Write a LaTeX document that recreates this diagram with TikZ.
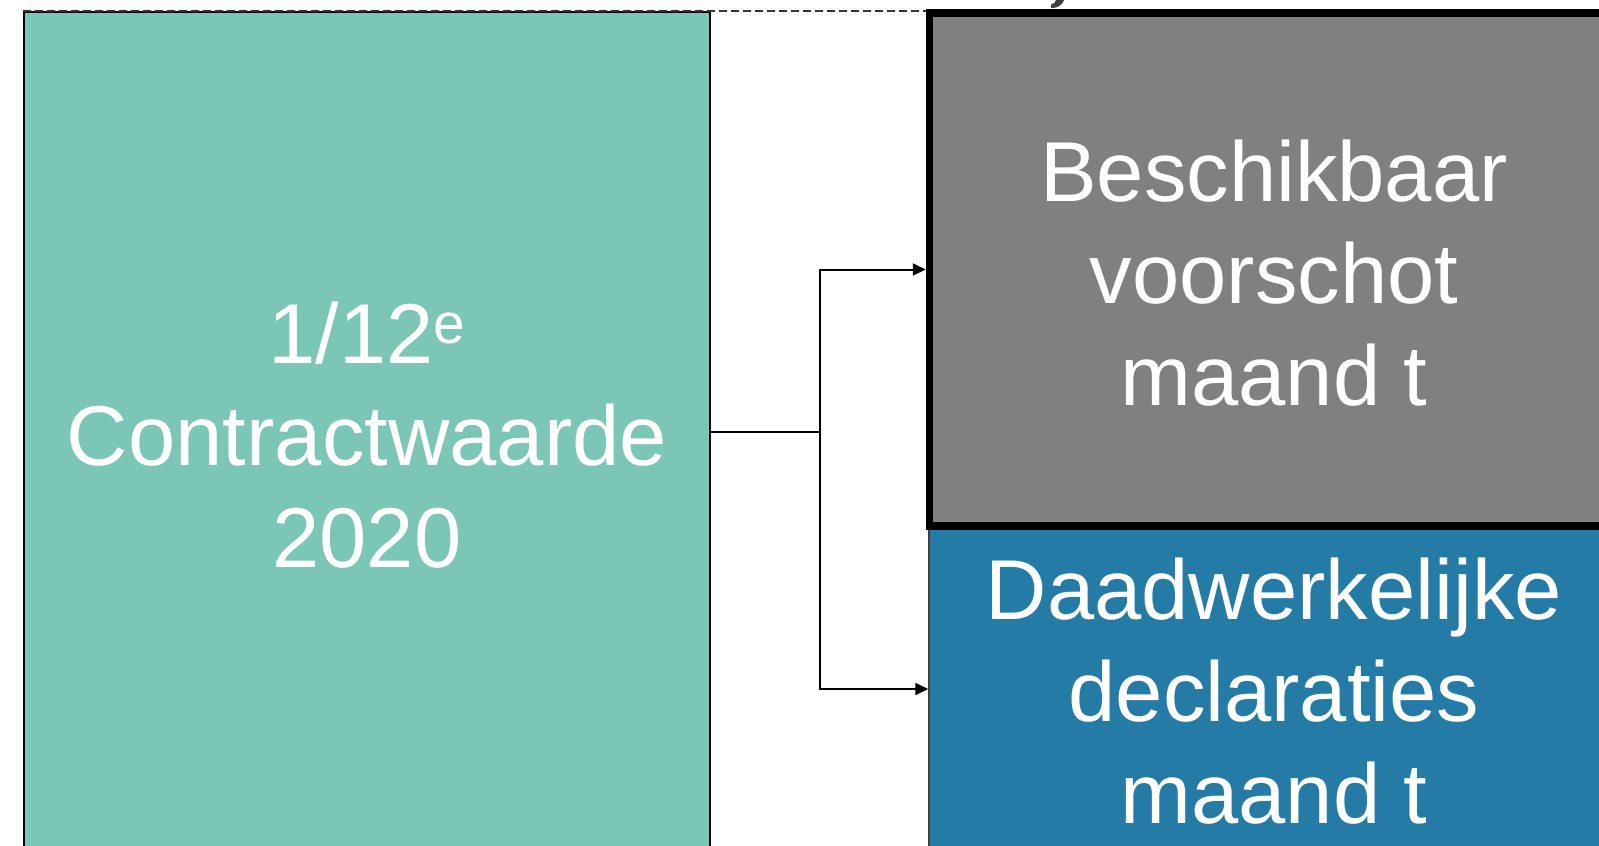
\documentclass[tikz,border=0pt]{standalone}
\usepackage{fontspec}
\setmainfont{Liberation Sans}
\usetikzlibrary{arrows.meta}
\definecolor{boxgreen}{HTML}{7BC6B6}
\definecolor{boxgray}{HTML}{808080}
\definecolor{boxblue}{HTML}{247BA6}
\definecolor{blobgray}{HTML}{404040}
\tikzset{
  panel/.style={rectangle, inner sep=0pt},
  label/.style={text=white, align=center, inner sep=0pt, font=\fontsize{85}{102}\selectfont},
  conn/.style={line width=2pt, black},
  arr/.style={conn, -{Triangle[length=13pt,width=12pt]}},
}
\begin{document}
\begin{tikzpicture}[x=1pt,y=-1pt]
\useasboundingbox (0,0) rectangle (1599,846);
\clip (0,0) rectangle (1599,846);
% boxes
\node[panel, fill=boxgreen, draw=black, line width=2pt, minimum width=686pt, minimum height=858pt] (green) at (367,441) {};
\node[panel, fill=boxblue, draw=blobgray, line width=1.5pt, minimum width=691pt, minimum height=354pt] (blue) at (1274.5,703) {};
\node[panel, fill=boxgray, draw=black, line width=7.5pt, minimum width=690.5pt, minimum height=513pt] (gray) at (1274.75,269.5) {};
% dashed top line
\draw[line width=1.5pt, dash pattern=on 8pt off 4pt, black!80] (green.north west) -- (gray.west |- green.north west);
% texts
\node[label] (tgreen) at (367,444.6) {\strut 1/12\raisebox{20pt}{\fontsize{57}{60}\selectfont e}\\Contractwaarde\\2020\strut};
\node[label] (tgray) at (1274,282.6) {\strut Beschikbaar\\voorschot\\maand t\strut};
\node[label] (tblue) at (1274,700.6) {\strut Daadwerkelijke\\declaraties\\maand t\strut};
% connectors
\coordinate (split) at (820,432);
\coordinate (low) at (820,689);
\draw[conn] (green.east |- split) -- (split);
\draw[arr] (split) |- (gray.west);
\draw[arr] (split) |- (blue.west |- low);
% cut-off glyph at the top
\fill[blobgray] (1051,8) .. controls (1058,8.5) and (1063,4) .. (1064,0) -- (1056,0) .. controls (1055.5,2.5) and (1054,4) .. (1051,4.5) -- cycle;
\end{tikzpicture}
\end{document}
